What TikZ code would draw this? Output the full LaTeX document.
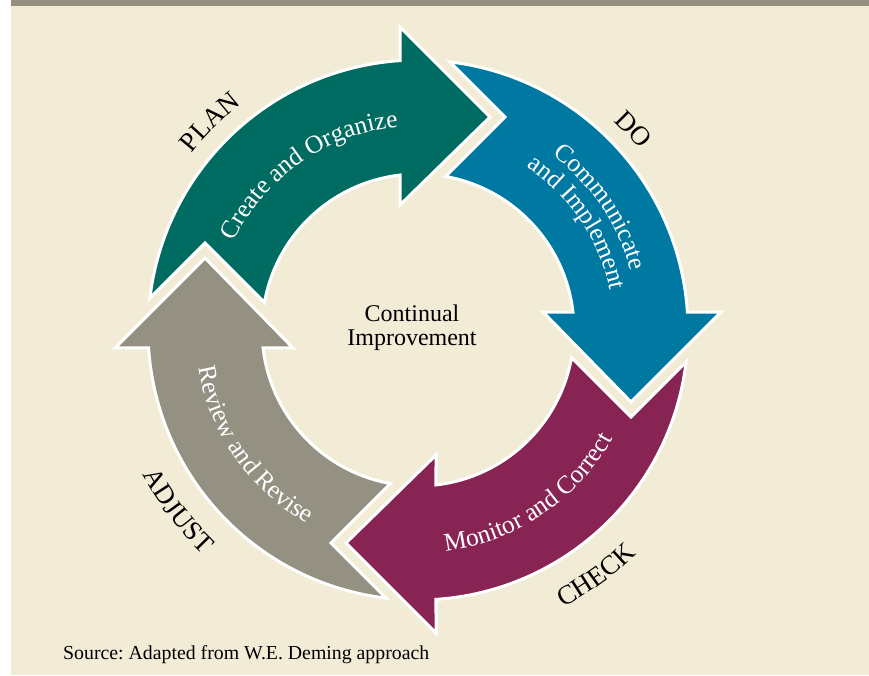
\documentclass[tikz,border=0pt]{standalone}
\usepackage{fontspec}
\setmainfont{Liberation Serif}
\usetikzlibrary{decorations.text}
\frenchspacing
\definecolor{cream}{RGB}{242,235,214}
\definecolor{graybar}{RGB}{148,143,128}
\definecolor{greenA}{RGB}{0,108,97}
\definecolor{blueA}{RGB}{0,121,162}
\definecolor{magA}{RGB}{136,36,84}
\definecolor{grayA}{RGB}{148,145,130}
\newcommand\lblfont{\fontsize{25.5}{25.5}\selectfont}
\newcommand\outfont{\fontsize{27}{27}\selectfont}
\tikzset{
  arrowbox/.style={draw=white, line width=3pt, line join=miter},
  intext/.style={decorate, decoration={text along path, text align=center, text color=white}},
  outtext/.style={decorate, decoration={text along path, text align=center, text color=black}}
}
\begin{document}
\begin{tikzpicture}[x=1pt,y=1pt]
\useasboundingbox (0,0) rectangle (869,675);
\fill[white] (0,0) rectangle (869,675);
\fill[cream] (11,0) rectangle (869,669);
\fill[graybar] (11,669) rectangle (869,675);
\begin{scope}[shift={(418,345)}]
  \foreach \r/\c in {0/greenA,-90/blueA,-180/magA,90/grayA}{
    \filldraw[arrowbox, fill=\c, rotate=\r]
      (173.19:270) arc[start angle=173.19, end angle=93.82, radius=270]
      -- (-18,303) -- (72,213) -- (-18,125) -- (96.62:156)
      arc[start angle=96.62, end angle=169.84, radius=156]
      -- (-213,87) -- cycle;
  }
  % labels inside arrows
  \path[intext, decoration={text={|\lblfont|Create and Organize}}]
    (185:204) arc[start angle=185, end angle=65, radius=204];
  \begin{scope}[rotate=-90]
    \path[intext, decoration={text={|\lblfont|Communicate}}]
      (184:221) arc[start angle=184, end angle=64, radius=221];
    \path[intext, decoration={text={|\lblfont|and Implement}}]
      (184:196) arc[start angle=184, end angle=64, radius=196];
    \path[outtext, decoration={text={|\outfont|DO}}]
      (163:286) arc[start angle=163, end angle=103, radius=286];
  \end{scope}
  \begin{scope}[rotate=-180]
    \path[intext, decoration={text={|\lblfont|Monitor and Correct}}]
      (64:223) arc[start angle=64, end angle=184, radius=223];
    \path[outtext, decoration={text={|\outfont|CHECK}}]
      (96:313) arc[start angle=96, end angle=156, radius=313];
  \end{scope}
  \begin{scope}[rotate=90]
    \path[intext, decoration={text={|\lblfont|Review and Revise}}]
      (65:223) arc[start angle=65, end angle=185, radius=223];
    \path[outtext, decoration={text={|\outfont|ADJUST}}]
      (97:311) arc[start angle=97, end angle=157, radius=311];
  \end{scope}
  \path[outtext, decoration={text={|\outfont|PLAN}}]
    (165:287) arc[start angle=165, end angle=105, radius=287];
\end{scope}
\node[align=center, font=\fontsize{24}{23.5}\selectfont, text=black] (center) at (412,347.5) {Continual\\Improvement};
\node[anchor=base west, font=\fontsize{19.8}{19.8}\selectfont, text=black, inner sep=0pt] (source) at (63,16) {Source: Adapted from W.E. Deming approach};
\end{tikzpicture}
\end{document}
